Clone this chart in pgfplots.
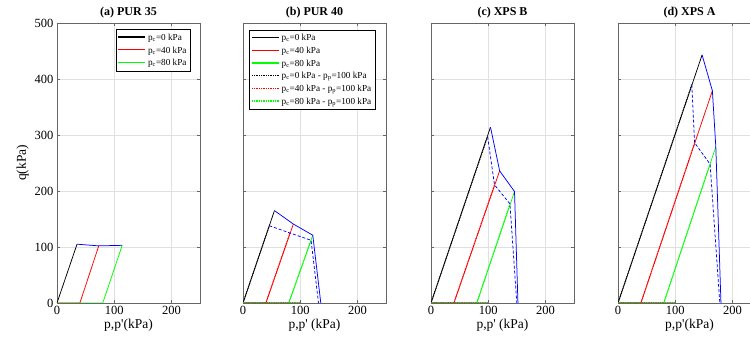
\documentclass[border=0pt]{standalone}
\usepackage{fontspec}
\setmainfont{Liberation Serif}
\usepackage{pgfplots}
\pgfplotsset{compat=1.18}
\definecolor{mgreen}{rgb}{0,1,0}
\definecolor{mblue}{rgb}{0,0,1}
\pgfplotsset{
 panel/.style={
  scale only axis, width=143pt, height=280pt,
  xmin=0,xmax=250,ymin=0,ymax=500,
  xtick={0,100,200}, ytick={0,100,...,500},
  grid=major, grid style={black!12, line width=0.5pt},
  tick align=inside, major tick length=3pt,
  axis line style={black!60, line width=0.7pt}, tick style={black!60},
  tick label style={font=\fontsize{12.5}{13}\selectfont},
  /pgf/number format/assume math mode=true,
  label style={font=\fontsize{13.5}{14}\selectfont},
  title style={font=\fontsize{12}{13}\selectfont\bfseries, yshift=-4.5pt},
  xlabel style={yshift=3pt},
  ylabel style={yshift=-1pt},
  every axis plot/.append style={line width=0.75pt},
  legend style={font=\fontsize{9.2}{10}\selectfont, inner xsep=2pt, inner ysep=1.5pt,
     cells={text height=7.2pt, text depth=3pt, inner ysep=2pt, inner xsep=2pt}},
  legend cell align=left,
  legend image code/.code={\draw[#1, line width=1.2pt] (0pt,0.5pt) -- (27pt,0.5pt);},
 },
 dots/.style={densely dotted, line width=1.1pt},
 bdash/.style={mblue, dash pattern=on 3pt off 2pt, line width=0.75pt},
}
\begin{document}
\begin{tikzpicture}
% (a)
\begin{axis}[panel, at={(57pt,36pt)}, anchor=south west,
  title={(a) PUR 35}, xlabel={p,p\textquotesingle(kPa)}, ylabel={q(kPa)},
  legend style={at={(0.935,0.977)}, anchor=north east}]
\addplot[black] coordinates {(0,0)(35,105)};
\addplot[red] coordinates {(0,0)(40,0)(73,102)};
\addplot[mgreen] coordinates {(0,0)(80,0)(114,103)};
\addplot[mblue, forget plot] coordinates {(35,105)(73,102)(114,103)};
\legend{p\textsubscript{c}=0 kPa, p\textsubscript{c}=40 kPa, p\textsubscript{c}=80 kPa}
\end{axis}
% (b)
\begin{axis}[panel, at={(243pt,36pt)}, anchor=south west,
  title={(b) PUR 40}, xlabel={p,p\textquotesingle\ (kPa)}, yticklabels={},
  legend style={at={(0.044,0.975)}, anchor=north west}]
\addplot[black] coordinates {(0,0)(55,165)};
\addplot[red] coordinates {(0,0)(40,0)(88,141)};
\addplot[mgreen] coordinates {(0,0)(80,0)(122,121)};
\addplot[black, dots] coordinates {(0,0)(100,0)(0,0)(46,138)};
\addplot[red, dots] coordinates {(0,0)(100,0)(40,0)(82,125)};
\addplot[mgreen, dots] coordinates {(0,0)(100,0)(80,0)(119,112)};
\addplot[mblue, forget plot] coordinates {(55,165)(88,141)(122,121)(136,0)};
\addplot[bdash, forget plot] coordinates {(46,138)(82,125)(119,112)(132,0)};
\legend{p\textsubscript{c}=0 kPa, p\textsubscript{c}=40 kPa, p\textsubscript{c}=80 kPa,
 p\textsubscript{c}=0 kPa - p\textsubscript{p}=100 kPa,
 p\textsubscript{c}=40 kPa - p\textsubscript{p}=100 kPa,
 p\textsubscript{c}=80 kPa - p\textsubscript{p}=100 kPa}
\end{axis}
% (c)
\begin{axis}[panel, at={(431pt,36pt)}, anchor=south west,
  title={(c) XPS B}, xlabel={p,p\textquotesingle\ (kPa)}, yticklabels={}]
\addplot[black] coordinates {(0,0)(104,314)};
\addplot[red] coordinates {(0,0)(40,0)(120,236)};
\addplot[mgreen] coordinates {(0,0)(80,0)(146,199)};
\addplot[black, dots] coordinates {(0,0)(100,0)(0,0)(99,297)};
\addplot[red, dots] coordinates {(0,0)(100,0)(40,0)(111,211)};
\addplot[mgreen, dots] coordinates {(0,0)(100,0)(80,0)(138,177)};
\addplot[mblue] coordinates {(104,314)(120,236)(146,199)(152,0)};
\addplot[bdash] coordinates {(99,297)(111,211)(138,177)(150,0)};
\end{axis}
% (d)
\begin{axis}[panel, at={(618pt,36pt)}, anchor=south west,
  title={(d) XPS A}, xlabel={p,p\textquotesingle(kPa)}, yticklabels={}]
\addplot[black] coordinates {(0,0)(147,443)};
\addplot[red] coordinates {(0,0)(40,0)(165,379)};
\addplot[mgreen] coordinates {(0,0)(80,0)(171,279)};
\addplot[black, dots] coordinates {(0,0)(100,0)(0,0)(129,390)};
\addplot[red, dots] coordinates {(0,0)(100,0)(40,0)(134,286)};
\addplot[mgreen, dots] coordinates {(0,0)(100,0)(80,0)(161,248)};
\addplot[mblue] coordinates {(147,443)(165,379)(171,279)(180,0)};
\addplot[bdash] coordinates {(129,390)(134,286)(161,248)(178,0)};
\end{axis}
\pgfresetboundingbox
\path[use as bounding box] (0pt,0pt) rectangle (750pt,339pt);
\end{tikzpicture}
\end{document}
